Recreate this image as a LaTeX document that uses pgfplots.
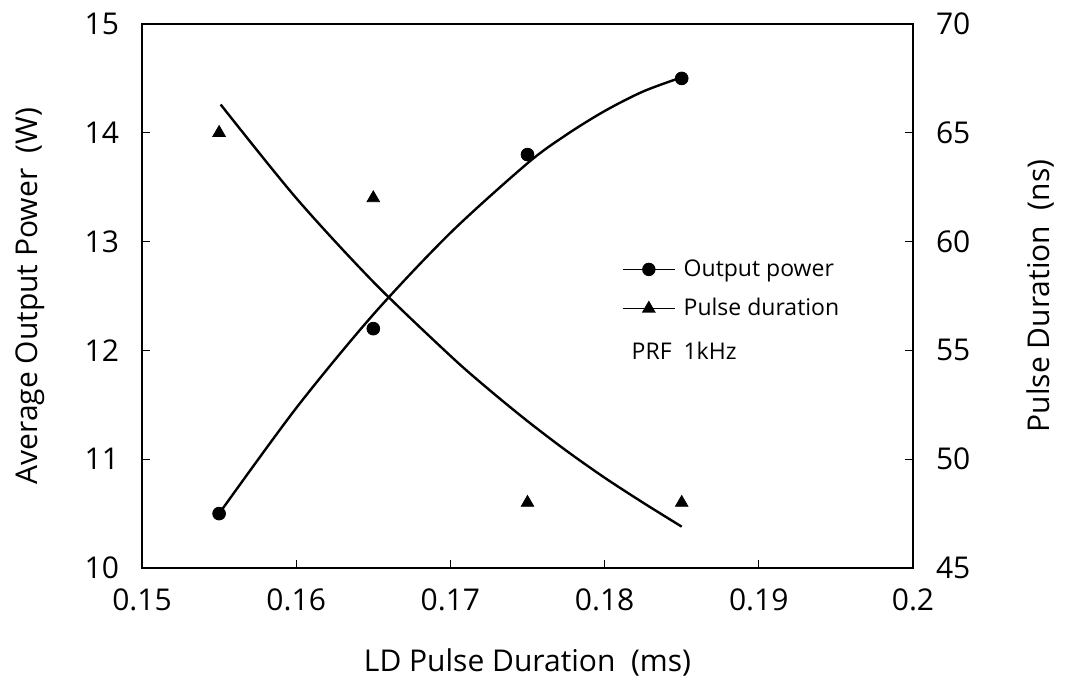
\documentclass[border=0pt]{standalone}
\usepackage{pgfplots}
\pgfplotsset{compat=1.18}
\usepackage{fontspec}
\setmainfont{Open Sans}
\begin{document}
\begin{tikzpicture}
\useasboundingbox (-71pt,-56.5pt) rectangle (462pt,284pt);
\pgfplotsset{
  common/.style={
    scale only axis, width=385.5pt, height=272pt,
    xmin=0.15, xmax=0.2,
    tick align=inside, major tick length=4pt,
    axis line style={line width=0.7pt},
    tick style={line width=0.6pt, black},
    /pgf/number format/assume math mode=true,
    ticklabel style={font=\fontsize{15}{17}\selectfont},
  }
}
\begin{axis}[common,
  ymin=10, ymax=15, ytick={10,11,12,13,14,15},
  xtick={0.15,0.16,0.17,0.18,0.19,0.2},
  xticklabels={0.15,0.16,0.17,0.18,0.19,0.2},
  xtick pos=bottom, ytick pos=left,
  yticklabel style={xshift=-8pt},
  xticklabel style={yshift=-7pt},
  xlabel={LD Pulse Duration\ \ (ms)},
  ylabel={Average Output Power\ \ (W)},
  every axis x label/.style={at={(axis description cs:0.5,0)}, yshift=-47pt, anchor=center, font=\fontsize{15}{18}\selectfont},
  every axis y label/.style={at={(axis description cs:0,0.5)}, xshift=-56pt, rotate=90, anchor=center, font=\fontsize{15}{18}\selectfont},
]
\addplot[only marks, mark=*, mark size=3.2pt, black] coordinates {
  (0.155,10.5) (0.165,12.2) (0.175,13.8) (0.185,14.5)
};
\addplot[smooth, line width=1.2pt, black, no marks] coordinates {
  (0.155,10.5) (0.16,11.47) (0.165,12.33) (0.17,13.08) (0.175,13.72) (0.1775,13.98) (0.18,14.2) (0.1825,14.38) (0.185,14.51)
};
\node[anchor=west, font=\fontsize{11.5}{14}\selectfont] at (axis cs:0.1813,12.0) {PRF\ \ 1kHz};
\end{axis}
\begin{axis}[common,
  ymin=45, ymax=70, ytick={45,50,55,60,65,70},
  axis x line=none, axis y line*=right, ytick pos=right,
  yticklabel style={xshift=8pt},
  ylabel={Pulse Duration\ \ (ns)},
  every axis y label/.style={at={(axis description cs:1,0.5)}, xshift=63.5pt, rotate=90, anchor=center, font=\fontsize{15}{18}\selectfont},
  legend image code/.code={\draw[mark repeat=2,mark phase=2] plot coordinates {(0cm,0cm) (0.46cm,0cm) (0.92cm,0cm)};},
  legend style={draw=none, fill=none, at={(axis description cs:0.622,0.575)}, anchor=north west,
    font=\fontsize{11.5}{14}\selectfont, row sep=5.5pt, inner sep=0pt,
    /tikz/every odd column/.append style={column sep=2pt}},
  legend cell align=left,
]
\addlegendimage{black, line width=0.7pt, mark=*, mark size=3pt}
\addlegendentry{Output power}
\addlegendimage{black, line width=0.7pt, mark=triangle*, mark size=3.3pt}
\addlegendentry{Pulse duration}
\addplot[only marks, mark=triangle*, mark size=3.6pt, black, forget plot] coordinates {
  (0.155,65) (0.165,62) (0.175,48) (0.185,48)
};
\addplot[smooth, line width=1.2pt, black, no marks, forget plot] coordinates {
  (0.1551,66.3) (0.16,62.0) (0.165,58.15) (0.17,54.75) (0.1725,53.2) (0.175,51.75) (0.1775,50.4) (0.18,49.15) (0.1825,48.0) (0.185,46.9)
};
\end{axis}
\end{tikzpicture}
\end{document}
